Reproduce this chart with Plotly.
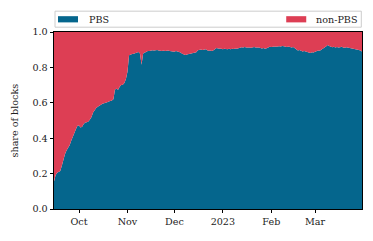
import pandas as pd
import plotly.graph_objects as go

start_date = "2022-09-15"
pbs_share = [
    0.155, 0.19, 0.205, 0.21, 0.215, 0.245, 0.285, 0.31, 0.33, 0.345,
    0.36, 0.385, 0.41, 0.43, 0.45, 0.47, 0.472, 0.46, 0.465, 0.48,
    0.488, 0.49, 0.495, 0.505, 0.52, 0.545, 0.56, 0.57, 0.578, 0.585,
    0.59, 0.594, 0.597, 0.598, 0.603, 0.607, 0.609, 0.613, 0.62, 0.675,
    0.68, 0.674, 0.69, 0.70, 0.702, 0.712, 0.735, 0.775, 0.868, 0.874,
    0.876, 0.877, 0.881, 0.884, 0.887, 0.878, 0.815, 0.879, 0.884, 0.888,
    0.893, 0.892, 0.896, 0.897, 0.895, 0.898, 0.899, 0.896, 0.894, 0.893,
    0.895, 0.892, 0.894, 0.896, 0.893, 0.891, 0.893, 0.889, 0.892, 0.890,
    0.888, 0.884, 0.877, 0.872, 0.870, 0.873, 0.875, 0.879, 0.882, 0.884,
    0.882, 0.886, 0.897, 0.899, 0.901, 0.898, 0.900, 0.902, 0.897, 0.894,
    0.896, 0.893, 0.897, 0.905, 0.909, 0.907, 0.904, 0.905, 0.903, 0.906,
    0.904, 0.902, 0.905, 0.903, 0.906, 0.904, 0.907, 0.905, 0.908, 0.912,
    0.914, 0.913, 0.915, 0.912, 0.914, 0.913, 0.911, 0.913, 0.915, 0.912,
    0.914, 0.913, 0.910, 0.907, 0.909, 0.906, 0.908, 0.914, 0.916, 0.915,
    0.917, 0.918, 0.916, 0.919, 0.920, 0.918, 0.921, 0.919, 0.917, 0.915,
    0.918, 0.914, 0.912, 0.915, 0.908, 0.898, 0.896, 0.899, 0.894, 0.890,
    0.892, 0.889, 0.887, 0.884, 0.882, 0.886, 0.884, 0.889, 0.893, 0.896,
    0.894, 0.899, 0.903, 0.912, 0.918, 0.926, 0.921, 0.916, 0.914, 0.917,
    0.913, 0.915, 0.912, 0.914, 0.916, 0.913, 0.911, 0.914, 0.912, 0.910,
    0.912, 0.909, 0.905, 0.902, 0.900, 0.898, 0.895, 0.890,
]
series_names = ["PBS", "non-PBS"]
series_colors = ["#05668D", "#DD3E54"]
tick_dates = ["2022-10-01", "2022-11-01", "2022-12-01", "2023-01-01", "2023-02-01", "2023-03-01"]
tick_labels = ["Oct", "Nov", "Dec", "2023", "Feb", "Mar"]
y_ticks = [0.0, 0.2, 0.4, 0.6, 0.8, 1.0]

dates = pd.date_range(start_date, periods=len(pbs_share), freq="D")
non_pbs_share = [1.0 - v for v in pbs_share]

FONT = "DejaVu Serif"
FS = 9.6
TXT = "#222222"

fig = go.Figure()
for name, vals, col in zip(series_names, [pbs_share, non_pbs_share], series_colors):
    fig.add_trace(go.Scatter(
        x=dates, y=vals, name=name, stackgroup="one", mode="lines",
        line=dict(width=0, color=col), fillcolor=col, showlegend=False,
    ))

# page offset (browser body margin)
OFF = 8
W, H = 373 - OFF, 241 - OFF
L, R, T, B = 54 - OFF, 11.3, 32.3 - OFF, 32
pw, ph = W - L - R, H - T - B

def px(xp):
    return (xp - OFF - L) / pw

def py(yp):
    return (H - B - (yp - OFF)) / ph

shapes = [dict(type="rect", xref="paper", yref="paper",
               x0=px(55), x1=px(361), y0=py(27.5), y1=py(11.5),
               line=dict(color="#cccccc", width=1), fillcolor="white", layer="above")]
annotations = []
legend_pos = [(58, 87), (286, 314)]
for (patch_x, text_x), name, col in zip(legend_pos, series_names, series_colors):
    shapes.append(dict(type="rect", xref="paper", yref="paper",
                       x0=px(patch_x), x1=px(patch_x + 20), y0=py(22.7), y1=py(16.5),
                       line=dict(width=0), fillcolor=col, layer="above"))
    annotations.append(dict(xref="paper", yref="paper", x=px(text_x), y=py(19.6),
                            text=name, showarrow=False, xanchor="left", yanchor="middle",
                            font=dict(family=FONT, size=FS, color=TXT)))

annotations.append(dict(xref="paper", yref="paper", x=px(15), y=0.5,
                        text="share of blocks", showarrow=False, textangle=-90,
                        xanchor="center", yanchor="middle",
                        font=dict(family=FONT, size=FS, color=TXT)))

fig.update_layout(
    width=W, height=H,
    margin=dict(l=L, r=R, t=T, b=B, pad=0, autoexpand=False),
    paper_bgcolor="white", plot_bgcolor="white",
    font=dict(family=FONT, size=FS, color=TXT),
    shapes=shapes, annotations=annotations,
    showlegend=False,
)
fig.update_xaxes(
    automargin=False,
    range=[dates[0], dates[-1]], tickvals=tick_dates, ticktext=tick_labels,
    ticks="outside", ticklen=3.5, tickwidth=0.8, tickcolor="black",
    showline=True, linecolor="black", linewidth=0.8, mirror=True,
    showgrid=False, zeroline=False, tickfont=dict(family=FONT, size=FS, color=TXT),
)
fig.update_yaxes(
    automargin=False,
    range=[0, 1], tickvals=y_ticks, tickformat=".1f",
    ticks="outside", ticklen=3.5, tickwidth=0.8, tickcolor="black",
    showline=True, linecolor="black", linewidth=0.8, mirror=True,
    showgrid=False, zeroline=False, tickfont=dict(family=FONT, size=FS, color=TXT),
)

fig.write_html("out.html")
